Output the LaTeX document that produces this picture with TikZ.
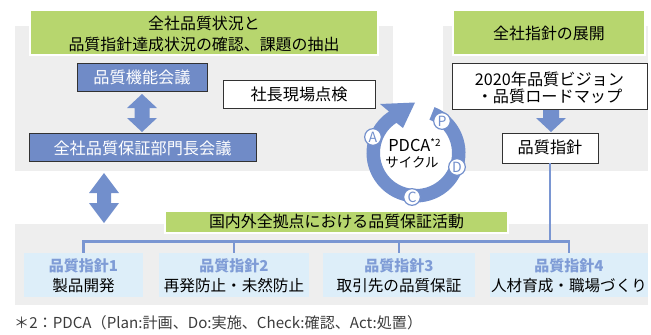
\documentclass[tikz,border=0pt]{standalone}
\usepackage{fontspec}
\setmainfont{Noto Sans CJK JP}
\usetikzlibrary{fit,calc}
\definecolor{bggray}{RGB}{238,238,238}
\definecolor{grn}{RGB}{183,214,110}
\definecolor{bbox}{RGB}{112,139,199}
\definecolor{lblue}{RGB}{221,238,249}
\definecolor{ttlblue}{RGB}{127,156,214}
\definecolor{ringblue}{RGB}{114,143,204}
\definecolor{edgec}{RGB}{50,50,50}
\definecolor{notegray}{RGB}{60,60,60}
\definecolor{linec}{RGB}{122,150,210}
\begin{document}
\begin{tikzpicture}[x=0.03cm,y=-0.03cm,
  panel/.style={fill=bggray, draw=none},
  greenbox/.style={fill=grn, draw=white, line width=2pt, inner sep=0pt},
  bluebox/.style={fill=bbox, draw=edgec, line width=0.8pt, inner sep=0pt},
  whitebox/.style={fill=white, draw=edgec, line width=0.8pt, inner sep=0pt},
  lbox/.style={fill=lblue, draw=none, inner sep=0pt},
  txt/.style={anchor=base, inner sep=0pt, text=black},
  gtxt/.style={txt, font=\fontsize{13.6}{16}\selectfont},
  btxt/.style={txt, text=white, font=\fontsize{13.8}{16}\selectfont},
  wtxt/.style={txt, font=\fontsize{13.8}{16}\selectfont},
  ttltxt/.style={txt, text=ttlblue, font=\bfseries\fontsize{12.8}{15}\selectfont},
  subtxt/.style={txt, font=\fontsize{13.3}{16}\selectfont},
  blockarrow/.style={fill=ringblue, draw=none},
  busline/.style={draw=linec, line width=2.2pt},
  pdc/.style={circle, fill=white, draw=ringblue, line width=1pt, inner sep=0pt, minimum size=0.5cm,
    text=ringblue, font=\fontsize{12}{12}\selectfont}
]
\useasboundingbox (0,0) rectangle (651,334);
% panels
\fill[panel] (15,26) rectangle (393,171);
\fill[panel] (443,26) rectangle (648,171);
\fill[panel] (15,224) rectangle (648,305);

% green boxes
\node[greenbox, fit={(30,10) (378,55)}] (g1) {};
\node[gtxt] (g1a) at (g1.center |- 0,29) {全社品質状況と};
\node[gtxt] (g1b) at (g1.center |- 0,50) {品質指針達成状況の確認、課題の抽出};
\node[greenbox, fit={(453,10) (645,55)}] (g2) {};
\node[gtxt] (g2a) at (g2.center |- 0,39) {全社指針の展開};

% left boxes
\node[bluebox, fit={(77,63) (207,91)}] (b1) {};
\node[btxt] (b1a) at (b1.center |- 0,83) {品質機能会議};
\node[bluebox, fit={(29,133) (256,161)}] (b2) {};
\node[btxt] (b2a) at (b2.center |- 0,154) {全社品質保証部門長会議};
\node[whitebox, fit={(223,80) (375,108)}] (w1) {};
\node[wtxt] (w1a) at (w1.center |- 0,100) {社長現場点検};

% right boxes
\node[whitebox, fit={(452,63) (647,109)}] (w2) {};
\node[wtxt] (w2a) at (w2.center |- 0,85.5) {2020年品質ビジョン};
\node[wtxt] (w2b) at (w2.center |- 0,102) {・品質ロードマップ};
\node[whitebox, fit={(502,133) (598,163)}] (w3) {};
\node[wtxt] (w3a) at (w3.center |- 0,153.5) {品質指針};

% block arrows
\fill[blockarrow] (142,94) -- (157,108) -- (149.5,108) -- (149.5,118) -- (157,118) -- (142,132)
  -- (127,118) -- (134.5,118) -- (134.5,108) -- (127,108) -- cycle;
\fill[blockarrow] (104,173) -- (119,193) -- (111,193) -- (111,203) -- (119,203) -- (104,223)
  -- (89,203) -- (97,203) -- (97,193) -- (89,193) -- cycle;
\fill[blockarrow] (543,110) -- (559,110) -- (559,118) -- (566,118) -- (551,132) -- (536,118)
  -- (543,118) -- cycle;

% bottom boxes
\node[lbox, fit={(24,253) (143,297)}] (l1) {};
\node[lbox, fit={(159,253) (309,297)}] (l2) {};
\node[lbox, fit={(323,253) (475,297)}] (l3) {};
\node[lbox, fit={(490,253) (648,297)}] (l4) {};
\node[ttltxt] (l1a) at (l1.center |- 0,271.5) {品質指針1};
\node[ttltxt] (l2a) at (l2.center |- 0,271.5) {品質指針2};
\node[ttltxt] (l3a) at (l3.center |- 0,271.5) {品質指針3};
\node[ttltxt] (l4a) at (l4.center |- 0,271.5) {品質指針4};
\node[subtxt] (l1b) at (l1.center |- 0,291) {製品開発};
\node[subtxt] (l2b) at (l2.center |- 0,291) {再発防止・未然防止};
\node[subtxt] (l3b) at (l3.center |- 0,291) {取引先の品質保証};
\node[subtxt] (l4b) at (l4.center |- 0,291) {人材育成・職場づくり};

% bus lines
\draw[busline] (l1.north) -- ++(0,-11) -| (l4.north);
\draw[busline] (l2.north) -- ++(0,-11);
\draw[busline] (l3.north) -- ++(0,-11);
\draw[busline] (w3.south) -- ($(w3.south |- l4.north)+(0,-11)$);

% green activity box
\node[greenbox, fit={(165,211) (508,233)}] (g3) {};
\node[gtxt] (g3a) at (g3.center |- 0,227.5) {国内外全拠点における品質保証活動};

% PDCA ring
\fill[white] (416,153) circle[radius=1.08cm];
\begin{scope}[shift={(416,153)}, x=0.03cm, y=0.03cm]
\fill[ringblue] (68:49.5) arc[start angle=68, end angle=-237, radius=49.5]
  -- (-36,49) -- (-1,50.5) -- (-13,25) -- (-237:36)
  arc[start angle=-237, end angle=68, radius=36] -- cycle;
\end{scope}
\node[pdc] (pP) at (442,121) {P};
\node[pdc] (pD) at (457,167) {D};
\node[pdc] (pC) at (412,197) {C};
\node[pdc] (pA) at (373,137) {A};
\node[txt, font=\fontsize{14}{16}\selectfont] (pdca) at (414.5,151)
  {PDCA\raisebox{0.55ex}{\fontsize{8.5}{8}\selectfont *2}};
\node[txt, font=\fontsize{11.5}{14}\selectfont] (cyc) at (412,167) {サイクル};

% footnote
\node[anchor=base west, inner sep=0pt, text=notegray, font=\fontsize{12.9}{14}\selectfont] (note) at (14,328.5)
  {＊2：PDCA（Plan:計画、Do:実施、Check:確認、Act:処置）};
\end{tikzpicture}
\end{document}
